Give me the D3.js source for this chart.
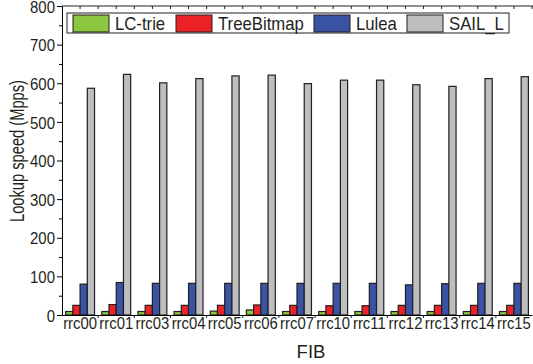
<!DOCTYPE html>
<html>
<head>
<meta charset="utf-8">
<script src="https://cdn.jsdelivr.net/npm/d3@7"></script>
<style>
  body { margin: 0; background: #fff; }
  svg { font-family: "Liberation Sans", Arial, sans-serif; }
</style>
</head>
<body>
<div id="chart"></div>
<script>
// Data
const fibs = ["rrc00", "rrc01", "rrc03", "rrc04", "rrc05", "rrc06", "rrc07",
              "rrc10", "rrc11", "rrc12", "rrc13", "rrc14", "rrc15"];
const seriesNames = ["LC-trie", "TreeBitmap", "Lulea", "SAIL_L"];
const lcTrie     = [9, 9, 9, 9, 10, 13, 9, 9, 9, 9, 9, 9, 9];
const treeBitmap = [25, 27, 25, 25, 25, 26, 25, 24, 24, 25, 25, 25, 25];
const lulea      = [80, 84, 82, 82, 82, 82, 82, 82, 82, 78, 81, 82, 82];
const sailL      = [587, 623, 601, 612, 619, 621, 599, 608, 608, 596, 592, 612, 617];
const yTicks = [0, 100, 200, 300, 400, 500, 600, 700, 800];

const seriesValues = [lcTrie, treeBitmap, lulea, sailL];
const colors = ["#8dc63f", "#ec2227", "#3a53a4", "#bcbec0"];

const width = 533, height = 364;
const margin = { top: 6, left: 62, bottom: 49 };
const plotRight = 532;
const ink = "#231f20";

// the original figure's text is a bit narrower than plain Arial
function squeeze(sel, factor) {
  sel.each(function () {
    const w = this.getComputedTextLength();
    d3.select(this)
      .attr("textLength", w * factor)
      .attr("lengthAdjust", "spacingAndGlyphs");
  });
}

const svg = d3.select("#chart").append("svg")
  .attr("width", width)
  .attr("height", height);

const x0 = d3.scaleBand()
  .domain(fibs)
  .range([margin.left, plotRight])
  .paddingInner(0.2)
  .paddingOuter(0.1);

const x1 = d3.scaleBand()
  .domain(seriesNames)
  .range([0, x0.bandwidth()]);

const y = d3.scaleLinear()
  .domain([0, 800])
  .range([height - margin.bottom, margin.top]);

// Bars
const groups = svg.append("g")
  .selectAll("g")
  .data(fibs)
  .join("g")
  .attr("transform", d => `translate(${x0(d)},0)`);

groups.selectAll("rect")
  .data((d, i) => seriesNames.map((s, j) => ({ s, v: seriesValues[j][i], c: colors[j] })))
  .join("rect")
  .attr("x", d => x1(d.s))
  .attr("y", d => y(d.v))
  .attr("width", x1.bandwidth())
  .attr("height", d => y(0) - y(d.v))
  .attr("fill", d => d.c)
  .attr("stroke", ink)
  .attr("stroke-width", 1.2);

// Y axis with minor ticks
const yAxis = svg.append("g")
  .attr("transform", `translate(${margin.left},0)`)
  .call(d3.axisLeft(y).tickValues(yTicks).tickSize(5).tickPadding(2));
svg.append("g")
  .attr("transform", `translate(${margin.left},0)`)
  .call(d3.axisLeft(y).tickValues(d3.range(50, 800, 100)).tickSize(3).tickFormat(""))
  .select(".domain").remove();
yAxis.selectAll("text")
  .style("font-size", "17px")
  .attr("dy", "0.36em")
  .attr("fill", ink)
  .call(squeeze, 0.88);

// Bottom axis: labels at centers, ticks at group boundaries
const xAxis = svg.append("g")
  .attr("transform", `translate(0,${y(0)})`)
  .call(d3.axisBottom(x0).tickSize(0).tickPadding(2));
xAxis.selectAll("text")
  .style("font-size", "16.5px")
  .attr("fill", ink)
  .call(squeeze, 0.9);
const boundaries = fibs.slice(1).map(d => x0(d) - x0.step() * x0.paddingInner() / 2);
svg.append("g")
  .selectAll("line")
  .data(boundaries)
  .join("line")
  .attr("x1", d => d).attr("x2", d => d)
  .attr("y1", y(0)).attr("y2", y(0) + 3)
  .attr("stroke", ink);

// Top frame with inward ticks
svg.append("line")
  .attr("x1", margin.left).attr("x2", width)
  .attr("y1", y(800)).attr("y2", y(800))
  .attr("stroke", ink);
const topTicks = fibs.flatMap(d => [x0(d) + x0.bandwidth() / 2, x0(d) + x0.bandwidth() / 2 + x0.step() / 2]);
svg.append("g")
  .selectAll("line")
  .data(topTicks)
  .join("line")
  .attr("x1", d => d).attr("x2", d => d)
  .attr("y1", y(800)).attr("y2", y(800) + 3)
  .attr("stroke", ink);

// Axis titles
svg.append("text")
  .attr("x", 311)
  .attr("y", 358)
  .attr("text-anchor", "middle")
  .style("font-size", "18.5px")
  .attr("fill", ink)
  .text("FIB");

svg.append("text")
  .attr("transform", `translate(24,151) rotate(-90)`)
  .attr("text-anchor", "middle")
  .style("font-size", "19.5px")
  .attr("fill", ink)
  .attr("textLength", 142)
  .attr("lengthAdjust", "spacingAndGlyphs")
  .text("Lookup speed (Mpps)");

// Legend
const legend = svg.append("g");
legend.append("rect")
  .attr("x", 67).attr("y", 13)
  .attr("width", 442).attr("height", 20)
  .attr("fill", "#fff")
  .attr("stroke", ink)
  .attr("stroke-width", 1);
const legendX = [73, 176, 314, 407];
seriesNames.forEach((s, i) => {
  legend.append("rect")
    .attr("x", legendX[i]).attr("y", 15)
    .attr("width", 36).attr("height", 17)
    .attr("fill", colors[i])
    .attr("stroke", ink)
    .attr("stroke-width", 1);
  legend.append("text")
    .attr("x", legendX[i] + 42).attr("y", 30)
    .style("font-size", "19px")
    .attr("fill", ink)
    .text(s)
    .call(squeeze, 0.88);
});
</script>
</body>
</html>
